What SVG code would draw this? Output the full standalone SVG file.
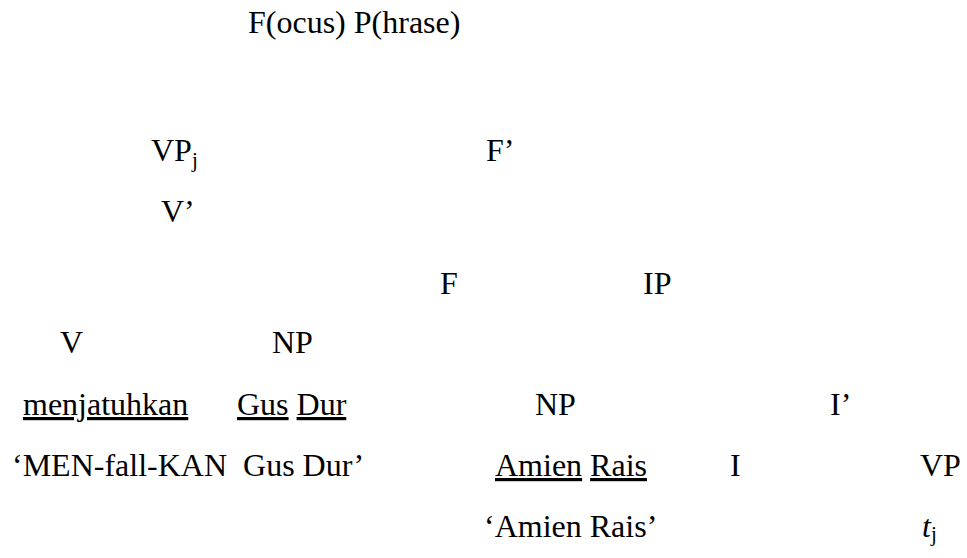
<svg xmlns="http://www.w3.org/2000/svg" width="967" height="558" viewBox="0 0 967 558">
  <rect width="967" height="558" fill="#fff"/>
  <g id="fp"><text x="248" y="33" style="font-family: 'Liberation Serif', serif; font-size: 32px">F(ocus) P(hrase)</text></g>
  <g id="vpj"><text x="151" y="161" style="font-family: 'Liberation Serif', serif; font-size: 32px">VP<tspan dy="6" style="font-size: 21px">j</tspan></text></g>
  <g id="fbar"><text x="486" y="161" style="font-family: 'Liberation Serif', serif; font-size: 32px">F’</text></g>
  <g id="vbar"><text x="161" y="222" style="font-family: 'Liberation Serif', serif; font-size: 32px">V’</text></g>
  <g id="f"><text x="440" y="294" style="font-family: 'Liberation Serif', serif; font-size: 32px">F</text></g>
  <g id="ip"><text x="643" y="294" style="font-family: 'Liberation Serif', serif; font-size: 32px">IP</text></g>
  <g id="v"><text x="60" y="353" style="font-family: 'Liberation Serif', serif; font-size: 32px">V</text></g>
  <g id="np1"><text x="272" y="353" style="font-family: 'Liberation Serif', serif; font-size: 32px">NP</text></g>
  <g id="verb"><text x="23" y="415" style="font-family: 'Liberation Serif', serif; font-size: 32px; text-decoration: underline">menjatuhkan</text></g>
  <g id="gusdur"><text x="237" y="415" style="font-family: 'Liberation Serif', serif; font-size: 32px"><tspan style="text-decoration: underline">Gus</tspan> <tspan style="text-decoration: underline">Dur</tspan></text></g>
  <g id="np2"><text x="535" y="415" style="font-family: 'Liberation Serif', serif; font-size: 32px">NP</text></g>
  <g id="ibar"><text x="830" y="415" style="font-family: 'Liberation Serif', serif; font-size: 32px">I’</text></g>
  <g id="gloss1"><text x="12" y="476" xml:space="preserve" style="font-family: 'Liberation Serif', serif; font-size: 32px">‘MEN-fall-KAN  Gus Dur’</text></g>
  <g id="amienrais"><text x="495" y="476" style="font-family: 'Liberation Serif', serif; font-size: 32px"><tspan style="text-decoration: underline">Amien</tspan> <tspan style="text-decoration: underline">Rais</tspan></text></g>
  <g id="i"><text x="730" y="476" style="font-family: 'Liberation Serif', serif; font-size: 32px">I</text></g>
  <g id="vp"><text x="920" y="476" style="font-family: 'Liberation Serif', serif; font-size: 32px">VP</text></g>
  <g id="gloss2"><text x="484" y="537" style="font-family: 'Liberation Serif', serif; font-size: 32px">‘Amien Rais’</text></g>
  <g id="trace"><text x="922" y="537" style="font-family: 'Liberation Serif', serif; font-size: 32px"><tspan style="font-style: italic">t</tspan><tspan dy="4" style="font-size: 21px">j</tspan></text></g>
</svg>
